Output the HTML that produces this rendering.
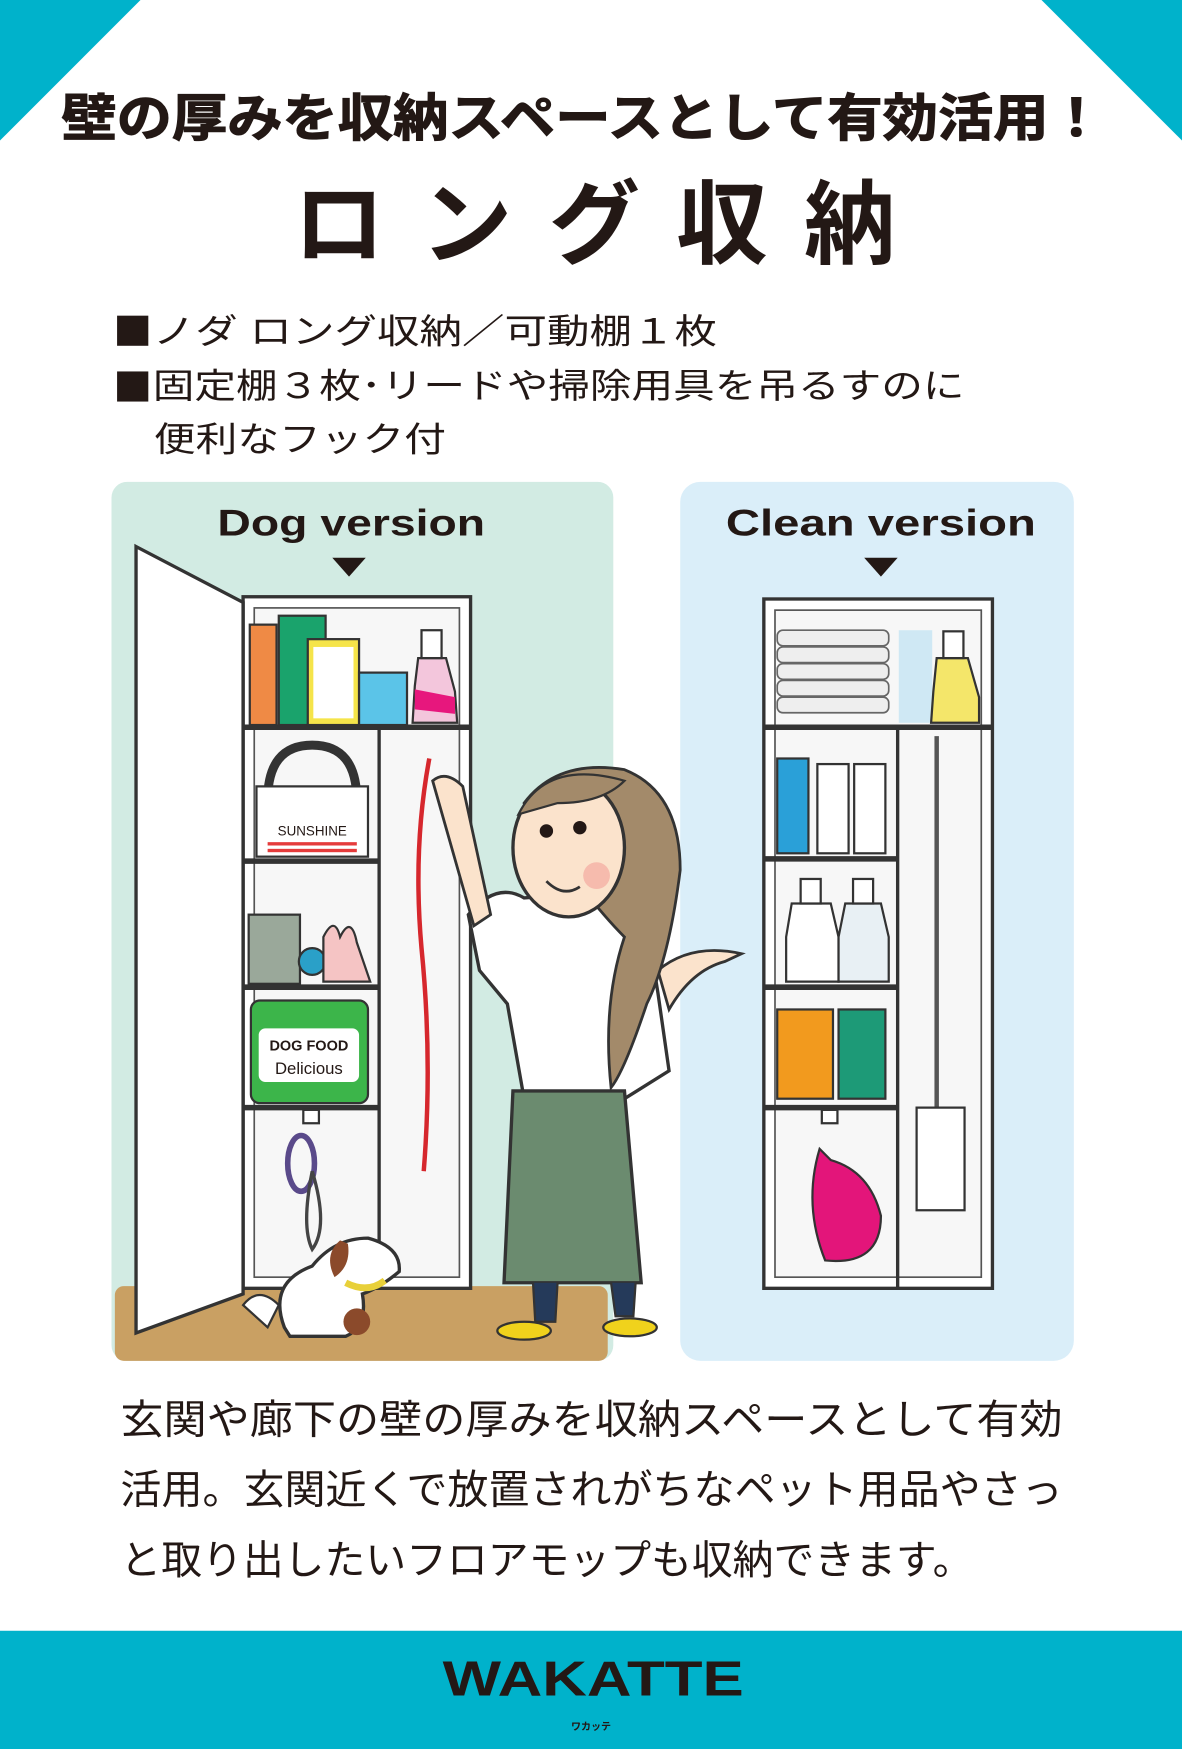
<!DOCTYPE html>
<html><head><meta charset="utf-8"><style>
html,body{margin:0;padding:0;background:#fff}
svg{display:block}
text{font-family:"Liberation Sans","Noto Sans CJK JP",sans-serif;fill:#231815}
</style></head><body>
<svg width="1182" height="1749" viewBox="0 0 1060 1568" preserveAspectRatio="none" xmlns="http://www.w3.org/2000/svg">
<rect width="1060" height="1568" fill="#fff"/>
<polygon points="0,0 126,0 0,126" fill="#00b2cb"/>
<polygon points="934,0 1060,0 1060,126" fill="#00b2cb"/>
<text x="55" y="122" font-size="46" font-weight="bold" stroke="#231815" stroke-width="1" textLength="935" lengthAdjust="spacingAndGlyphs">壁の厚みを収納スペースとして有効活用！</text>
<text x="263" y="230" font-size="82" font-weight="bold" textLength="540" lengthAdjust="spacing">ロング収納</text>
<rect x="105" y="283" width="28" height="27" fill="#231815"/>
<rect x="105" y="333" width="28" height="27" fill="#231815"/>
<text x="137" y="308" font-size="31" textLength="506" lengthAdjust="spacingAndGlyphs">ノダ ロング収納／可動棚１枚</text>
<text x="137" y="357" font-size="31" textLength="728" lengthAdjust="spacingAndGlyphs">固定棚３枚･リードや掃除用具を吊るすのに</text>
<text x="138" y="405" font-size="31" textLength="262" lengthAdjust="spacingAndGlyphs">便利なフック付</text>

<rect x="100" y="432" width="450" height="788" rx="14" fill="#d2ebe3"/>
<rect x="610" y="432" width="353" height="788" rx="18" fill="#daeef9"/>
<rect x="103" y="1153" width="442" height="67" rx="8" fill="#c9a063"/>
<text x="315" y="480" font-size="33" font-weight="bold" text-anchor="middle" textLength="240" lengthAdjust="spacingAndGlyphs">Dog version</text>
<polygon points="298,500 328,500 313,517" fill="#231815"/>
<text x="790" y="480" font-size="33" font-weight="bold" text-anchor="middle" textLength="278" lengthAdjust="spacingAndGlyphs">Clean version</text>
<polygon points="775,500 805,500 790,517" fill="#231815"/>

<rect x="218" y="535" width="204" height="620" fill="#fff" stroke="#333" stroke-width="3"/>
<rect x="228" y="545" width="184" height="600" fill="#f7f7f7" stroke="#555" stroke-width="1.5"/>
<line x1="218" y1="652" x2="422" y2="652" stroke="#333" stroke-width="5"/>
<line x1="218" y1="772" x2="340" y2="772" stroke="#333" stroke-width="5"/>
<line x1="218" y1="885" x2="340" y2="885" stroke="#333" stroke-width="5"/>
<line x1="218" y1="993" x2="340" y2="993" stroke="#333" stroke-width="5"/>
<line x1="340" y1="652" x2="340" y2="1155" stroke="#333" stroke-width="3"/>
<polygon points="122,490 218,540 218,1160 122,1195" fill="#fff" stroke="#333" stroke-width="3"/>
<rect x="224" y="560" width="24" height="90" fill="#ef8a45" stroke="#333" stroke-width="2"/>
<rect x="250" y="552" width="42" height="98" fill="#1aa36c" stroke="#333" stroke-width="2"/>
<rect x="276" y="573" width="46" height="77" fill="#f5e44a" stroke="#333" stroke-width="2"/>
<rect x="281" y="580" width="36" height="64" fill="#fff"/>
<rect x="322" y="603" width="43" height="47" fill="#5bc4e8" stroke="#333" stroke-width="2"/>
<path d="M375 590 L400 590 L408 620 L410 648 L370 648 L372 615Z" fill="#f3c6dc" stroke="#333" stroke-width="2"/>
<rect x="378" y="565" width="18" height="25" fill="#fff" stroke="#333" stroke-width="2"/>
<path d="M372 618 L408 625 L408 640 L372 636Z" fill="#e7177d"/>
<path d="M240 718 Q240 668 280 668 Q320 668 320 718" fill="none" stroke="#333" stroke-width="8"/>
<rect x="230" y="705" width="100" height="63" fill="#fff" stroke="#333" stroke-width="2"/>
<text x="280" y="749" font-size="12" text-anchor="middle">SUNSHINE</text>
<rect x="240" y="755" width="80" height="3" fill="#e53b3b"/><rect x="240" y="761" width="80" height="3" fill="#e53b3b"/>
<rect x="223" y="820" width="46" height="62" fill="#9aa89a" stroke="#333" stroke-width="2"/>
<circle cx="280" cy="862" r="12" fill="#2aa0c8" stroke="#333" stroke-width="2"/>
<path d="M290 880 L290 840 Q300 820 305 840 Q315 820 320 845 L332 880Z" fill="#f5c4c4" stroke="#333" stroke-width="2"/>
<rect x="225" y="897" width="105" height="92" rx="8" fill="#3cb54a" stroke="#333" stroke-width="2"/>
<rect x="232" y="922" width="90" height="48" rx="6" fill="#fff"/>
<text x="277" y="942" font-size="13" font-weight="bold" text-anchor="middle">DOG FOOD</text>
<text x="277" y="963" font-size="15" text-anchor="middle">Delicious</text>
<rect x="272" y="995" width="14" height="12" fill="#fff" stroke="#333" stroke-width="2"/>
<ellipse cx="270" cy="1043" rx="12" ry="25" fill="none" stroke="#5a4a8a" stroke-width="5"/>
<path d="M280 1050 Q295 1100 280 1120 Q270 1100 280 1050" fill="none" stroke="#444" stroke-width="3"/>
<path d="M385 680 Q370 760 378 850 Q388 950 380 1050" fill="none" stroke="#d6272d" stroke-width="4"/>

<path d="M255 1190 Q240 1150 280 1135 Q300 1110 330 1110 Q360 1118 358 1140 Q340 1155 325 1160 Q330 1190 310 1198 L260 1198Z" fill="#fff" stroke="#333" stroke-width="3"/>
<ellipse cx="320" cy="1185" rx="12" ry="12" fill="#8b4a2b"/>
<path d="M305 1112 Q290 1125 300 1145 Q315 1135 312 1115Z" fill="#8b4a2b"/>
<path d="M310 1150 Q330 1160 345 1148" stroke="#e8d03a" stroke-width="6" fill="none"/>
<path d="M218 1170 Q232 1152 250 1170 L240 1190 Z" fill="#fff" stroke="#333" stroke-width="2"/>

<path d="M420 820 Q445 790 470 805 L540 800 Q580 820 590 890 L600 960 L560 985 L470 985 L455 900 L430 870Z" fill="#fff" stroke="#333" stroke-width="3"/>
<path d="M388 700 Q400 690 415 705 L440 820 L425 830 Z" fill="#fbe3cc" stroke="#333" stroke-width="2.5"/>
<path d="M590 870 Q620 845 665 855 L650 862 Q620 870 600 905Z" fill="#fbe3cc" stroke="#333" stroke-width="2.5"/>
<path d="M470 720 Q500 680 560 690 Q610 710 610 780 Q600 860 580 900 Q560 960 548 975 Q540 900 560 840 Q520 800 470 720Z" fill="#a38a6a" stroke="#333" stroke-width="2.5"/>
<ellipse cx="510" cy="760" rx="50" ry="62" fill="#fbe3cc" stroke="#333" stroke-width="3"/>
<path d="M465 730 Q490 680 560 700 Q540 720 500 720Z" fill="#a38a6a" stroke="#333" stroke-width="2"/>
<circle cx="490" cy="745" r="6" fill="#231815"/><circle cx="520" cy="742" r="6" fill="#231815"/>
<circle cx="535" cy="785" r="12" fill="#f4a9a0" opacity=".7"/>
<path d="M490 790 Q505 805 520 795" fill="none" stroke="#333" stroke-width="2.5"/>
<path d="M460 978 L560 978 L575 1150 L452 1150Z" fill="#6b8b6f" stroke="#333" stroke-width="3"/>
<path d="M478 1150 L480 1185 L498 1185 L500 1150 M548 1150 L552 1180 L568 1180 L570 1150" fill="#253a5a" stroke="#333" stroke-width="2"/>
<ellipse cx="470" cy="1193" rx="24" ry="8" fill="#f0d21c" stroke="#333" stroke-width="2"/>
<ellipse cx="565" cy="1190" rx="24" ry="8" fill="#f0d21c" stroke="#333" stroke-width="2"/>

<rect x="685" y="537" width="205" height="618" fill="#fff" stroke="#333" stroke-width="3"/>
<rect x="695" y="547" width="185" height="598" fill="#f7f7f7" stroke="#555" stroke-width="1.5"/>
<line x1="685" y1="652" x2="890" y2="652" stroke="#333" stroke-width="5"/>
<line x1="685" y1="770" x2="805" y2="770" stroke="#333" stroke-width="5"/>
<line x1="685" y1="885" x2="805" y2="885" stroke="#333" stroke-width="5"/>
<line x1="685" y1="993" x2="805" y2="993" stroke="#333" stroke-width="5"/>
<line x1="805" y1="652" x2="805" y2="1155" stroke="#333" stroke-width="3"/>
<g fill="#eee" stroke="#666" stroke-width="1.5">
<rect x="697" y="565" width="100" height="14" rx="5"/><rect x="697" y="580" width="100" height="14" rx="5"/><rect x="697" y="595" width="100" height="14" rx="5"/><rect x="697" y="610" width="100" height="14" rx="5"/><rect x="697" y="625" width="100" height="14" rx="5"/></g>
<rect x="806" y="565" width="30" height="83" fill="#cfe8f4"/>
<path d="M840 590 L868 590 L878 625 L878 648 L835 648 L837 620Z" fill="#f4e66a" stroke="#333" stroke-width="2"/>
<rect x="846" y="566" width="18" height="24" fill="#fff" stroke="#333" stroke-width="2"/>
<rect x="697" y="680" width="28" height="85" fill="#2aa0d8" stroke="#333" stroke-width="2"/>
<rect x="733" y="685" width="28" height="80" fill="#fff" stroke="#333" stroke-width="2"/>
<rect x="766" y="685" width="28" height="80" fill="#fff" stroke="#333" stroke-width="2"/>
<path d="M710 810 L745 810 L752 840 L752 880 L705 880 L705 840Z" fill="#fff" stroke="#333" stroke-width="2"/>
<path d="M758 810 L790 810 L797 840 L797 880 L752 880 L752 840Z" fill="#e8f0f4" stroke="#333" stroke-width="2"/>
<rect x="718" y="788" width="18" height="22" fill="#fff" stroke="#333" stroke-width="2"/>
<rect x="765" y="788" width="18" height="22" fill="#fff" stroke="#333" stroke-width="2"/>
<rect x="697" y="905" width="50" height="80" fill="#f29a1e" stroke="#333" stroke-width="2"/>
<rect x="752" y="905" width="42" height="80" fill="#1d9a77" stroke="#333" stroke-width="2"/>
<line x1="840" y1="660" x2="840" y2="1005" stroke="#555" stroke-width="4"/>
<rect x="822" y="993" width="43" height="92" fill="#fff" stroke="#333" stroke-width="2"/>
<rect x="737" y="995" width="14" height="12" fill="#fff" stroke="#333" stroke-width="2"/>
<path d="M735 1030 Q720 1080 740 1130 Q790 1135 790 1090 Q780 1050 745 1040Z" fill="#e3157a" stroke="#333" stroke-width="2"/>

<text x="108" y="1285" font-size="36" textLength="845" lengthAdjust="spacingAndGlyphs">玄関や廊下の壁の厚みを収納スペースとして有効</text>
<text x="108" y="1348" font-size="36" textLength="845" lengthAdjust="spacingAndGlyphs">活用。玄関近くで放置されがちなペット用品やさっ</text>
<text x="108" y="1411" font-size="36" textLength="765" lengthAdjust="spacingAndGlyphs">と取り出したいフロアモップも収納できます。</text>

<rect x="0" y="1462" width="1060" height="106" fill="#00b2cb"/>
<text x="532" y="1520" font-size="44" font-weight="bold" text-anchor="middle" textLength="270" lengthAdjust="spacingAndGlyphs">WAKATTE</text>
<text x="530" y="1551" font-size="9" font-weight="bold" text-anchor="middle">ワカッテ</text>
</svg>
</body></html>
